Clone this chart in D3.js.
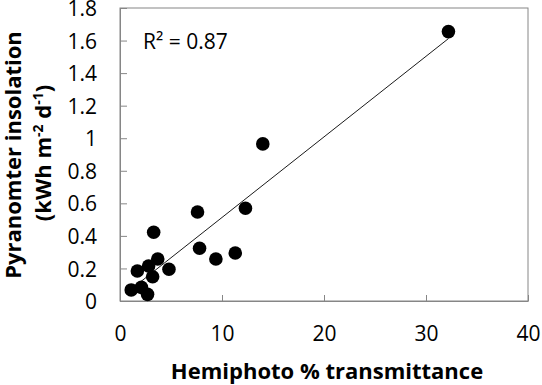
<!DOCTYPE html>
<html>
<head>
<meta charset="utf-8">
<script src="https://cdn.jsdelivr.net/npm/d3@7"></script>
<style>
body { margin: 0; background: #fff; }
text { font-family: "Open Sans", sans-serif; fill: #000; }
</style>
</head>
<body>
<div id="chart"></div>
<script>
width = 542
height = 385

// hemiphoto % transmittance vs pyranometer insolation
let transmittance = [32.2, 14.0, 12.3, 7.6, 7.8, 9.4, 11.3, 3.3, 3.7, 4.8, 1.7, 2.8, 3.2, 1.1, 2.1, 2.7]
let insolation = [1.655, 0.965, 0.57, 0.547, 0.324, 0.258, 0.295, 0.422, 0.258, 0.195, 0.184, 0.215, 0.149, 0.068, 0.084, 0.041]
let xTicks = [0, 10, 20, 30, 40]
let yTicks = [0, 0.2, 0.4, 0.6, 0.8, 1, 1.2, 1.4, 1.6, 1.8]
let r2Label = "R² = 0.87"

let margin = {left: 120, top: 8, right: 14, bottom: 84}

let svg = d3.select("#chart")
.append("svg")
.attr("width", width)
.attr("height", height)

let x = d3.scaleLinear().domain([0, 40]).range([margin.left, width - margin.right])
let y = d3.scaleLinear().domain([0, 1.8]).range([height - margin.bottom, margin.top])

// plot border
svg.append("rect")
.attr("x", x(0))
.attr("y", y(1.8))
.attr("width", x(40) - x(0))
.attr("height", y(0) - y(1.8))
.attr("fill", "none")
.attr("stroke", "#868686")
.attr("stroke-width", 1)

// axes, ticks pointing inside
let xAxis = svg.append("g")
.attr("transform", "translate(0," + y(0) + ")")
.call(d3.axisBottom(x).tickValues(xTicks).tickSizeInner(-6).tickSizeOuter(0).tickPadding(25))
let yAxis = svg.append("g")
.attr("transform", "translate(" + x(0) + ",0)")
.call(d3.axisLeft(y).tickValues(yTicks).tickSizeInner(-7).tickSizeOuter(0).tickPadding(23).tickFormat(d3.format("~g")))

for (let ax of [xAxis, yAxis]) {
	ax.select(".domain").attr("stroke", "#868686")
	ax.selectAll(".tick line").attr("stroke", "#868686")
	ax.selectAll(".tick text").attr("font-size", 21).attr("font-family", "Open Sans")
}
yAxis.selectAll(".tick text").attr("x", -23).attr("dy", "0.36em")

// trendline (least squares)
let pts = transmittance.map((t, i) => [t, insolation[i]])
let mx = d3.mean(transmittance), my = d3.mean(insolation)
let slope = d3.sum(pts, p => (p[0] - mx) * (p[1] - my)) / d3.sum(pts, p => (p[0] - mx) ** 2)
let intercept = my - slope * mx
let xr = d3.extent(transmittance)

svg.append("line")
.attr("x1", x(xr[0]))
.attr("y1", y(intercept + slope * xr[0]))
.attr("x2", x(xr[1]))
.attr("y2", y(intercept + slope * xr[1]))
.attr("stroke", "#000")
.attr("stroke-width", 0.9)

svg.append("g")
.selectAll("circle")
.data(pts)
.join("circle")
.attr("cx", d => x(d[0]))
.attr("cy", d => y(d[1]))
.attr("r", 6.8)
.attr("fill", "#000")

svg.append("text")
.attr("x", 143)
.attr("y", 49)
.attr("font-size", 21)
.text(r2Label)

// axis titles
svg.append("text")
.attr("x", (x(0) + x(40)) / 2 + 3)
.attr("y", 379)
.attr("text-anchor", "middle")
.attr("font-size", 22)
.attr("font-weight", "bold")
.text("Hemiphoto % transmittance")

let yTitle = svg.append("text")
.attr("transform", "translate(0," + 155 + ") rotate(-90)")
.attr("text-anchor", "middle")
.attr("font-size", 22)
.attr("font-weight", "bold")

yTitle.append("tspan")
.attr("x", 0)
.attr("y", 21)
.text("Pyranomter insolation")

let line2 = yTitle.append("tspan")
.attr("x", 2)
.attr("y", 51)
line2.append("tspan").text("(kWh m")
line2.append("tspan").attr("font-size", 14).attr("dy", -8).text("-2")
line2.append("tspan").attr("dy", 8).text(" d")
line2.append("tspan").attr("font-size", 14).attr("dy", -8).text("-1")
line2.append("tspan").attr("dy", 8).text(")")
</script>
</body>
</html>
